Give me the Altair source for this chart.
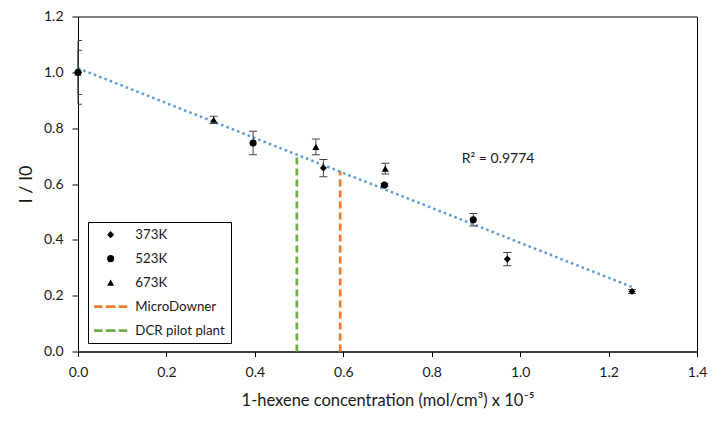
import altair as alt
import pandas as pd

FONT = "Lato"
TXT = "#1a1a1a"

# ---- data ----
series_names = ["373K", "523K", "673K"]
x_373 = [0.0, 0.555, 0.971, 1.253]
y_373 = [1.0, 0.657, 0.331, 0.215]
e_373 = [0.114, 0.031, 0.024, 0.007]

x_523 = [0.0, 0.396, 0.693, 0.894]
y_523 = [1.0, 0.747, 0.596, 0.472]
e_523 = [0.079, 0.042, 0.005, 0.022]

x_673 = [0.0, 0.307, 0.538, 0.695]
y_673 = [1.0, 0.830, 0.733, 0.655]
e_673 = [0.0, 0.013, 0.028, 0.019]

line_names = ["MicroDowner", "DCR pilot plant"]
line_x = [0.593, 0.495]
line_top = [0.646, 0.707]
line_colors = ["#ED7D31", "#70AD47"]

x_ticks = [0.0, 0.2, 0.4, 0.6, 0.8, 1.0, 1.2, 1.4]
y_ticks = [0.0, 0.2, 0.4, 0.6, 0.8, 1.0, 1.2]

r2_pos = (0.868, 0.69)

# ---- tables ----
rows = []
for name, xs_, ys_, es_ in zip(series_names, [x_373, x_523, x_673],
                               [y_373, y_523, y_673], [e_373, e_523, e_673]):
    for xv, yv, ev in zip(xs_, ys_, es_):
        rows.append(dict(series=name, x=xv, y=yv, lo=yv - ev, hi=yv + ev))
pts = pd.DataFrame(rows)

vlines = pd.DataFrame(dict(series=line_names, x=line_x, base=[0.0, 0.0],
                           top=line_top, color=line_colors))

dash_path = ("M-4.7,-0.39H-2.3V0.39H-4.7Z M-1.4,-0.39H1.4V0.39H-1.4Z "
             "M2.3,-0.39H4.7V0.39H2.3Z")
legend_names = series_names + line_names
legend_colors = ["black", "black", "black"] + line_colors
legend_shapes = ["diamond", "circle", "triangle-up", dash_path, dash_path]

xscale = alt.Scale(domain=[0, 1.4], nice=False, zero=False)
yscale = alt.Scale(domain=[0, 1.2], nice=False, zero=False)

xaxis = alt.Axis(values=x_ticks, format=".1f", grid=False, tickSize=5,
                 labelPadding=9, titlePadding=13, labelFlush=False,
                 title="1-hexene concentration (mol/cm³) x 10⁻⁵")
yaxis = alt.Axis(values=y_ticks, format=".1f", grid=False, tickSize=6,
                 labelPadding=9, titlePadding=8, labelFlush=False,
                 title="I / I0")


def X(field):
    return alt.X(field, type="quantitative", scale=xscale, axis=xaxis)


def Y(field):
    return alt.Y(field, type="quantitative", scale=yscale, axis=yaxis)


base = alt.Chart(pts)

rules = alt.Chart(vlines).mark_rule(strokeWidth=2.75, strokeDash=[7, 4]).encode(
    x=X("x"), y=Y("base"), y2="top:Q",
    color=alt.Color("color:N", scale=None),
)

trend = base.transform_regression("x", "y").mark_line(
    color="#5B9BD5", strokeWidth=2.5, strokeDash=[2.5, 3.2]
).encode(x=X("x"), y=Y("y"))

err = base.mark_rule(color="#404040", strokeWidth=1).encode(
    x=X("x"), y=Y("lo"), y2="hi:Q")
cap_lo = base.mark_tick(orient="horizontal", size=8, thickness=1,
                        color="#404040", opacity=1, clip=True).encode(
    x=X("x"), y=Y("lo"))
cap_hi = base.mark_tick(orient="horizontal", size=8, thickness=1,
                        color="#404040", opacity=1, clip=True).encode(
    x=X("x"), y=Y("hi"))

legend = alt.Legend(title=None, orient="none", legendX=10, legendY=205.5,
                    padding=6, fillColor="white", strokeColor="black",
                    cornerRadius=0, symbolSize=50, symbolStrokeWidth=0,
                    symbolOffset=10, labelOffset=18, rowPadding=10,
                    labelFont=FONT, labelFontSize=13.3, labelColor=TXT)

points = base.mark_point(filled=True, size=50, opacity=1).encode(
    x=X("x"), y=Y("y"),
    color=alt.Color("series:N", scale=alt.Scale(domain=legend_names,
                                                range=legend_colors),
                    legend=legend),
    shape=alt.Shape("series:N", scale=alt.Scale(domain=legend_names,
                                                range=legend_shapes),
                    legend=legend),
)

r2 = base.transform_regression("x", "y", params=True).transform_calculate(
    label="'R² = ' + format(datum.rSquared, '.4f')"
).mark_text(align="left", baseline="middle", font=FONT, fontSize=14,
            color=TXT).encode(
    x=alt.datum(r2_pos[0]), y=alt.datum(r2_pos[1]), text="label:N")

chart = alt.layer(rules, trend, err, cap_lo, cap_hi, points, r2).properties(
    width=619, height=335,
    autosize=alt.AutoSizeParams(type="none"),
    padding={"left": 70, "top": 8.5, "right": 17, "bottom": 65},
).configure_view(stroke="black", strokeWidth=1).configure_axis(
    domainColor="black", tickColor="black", labelColor=TXT, titleColor=TXT,
    labelFont=FONT, titleFont=FONT, labelFontSize=14,
).configure_axisX(titleFontSize=16.5, titleFontWeight="normal").configure_axisY(
    titleFontSize=18, titleFontWeight="normal")

chart.save("out.html", embed_options={"renderer": "svg", "actions": False})
